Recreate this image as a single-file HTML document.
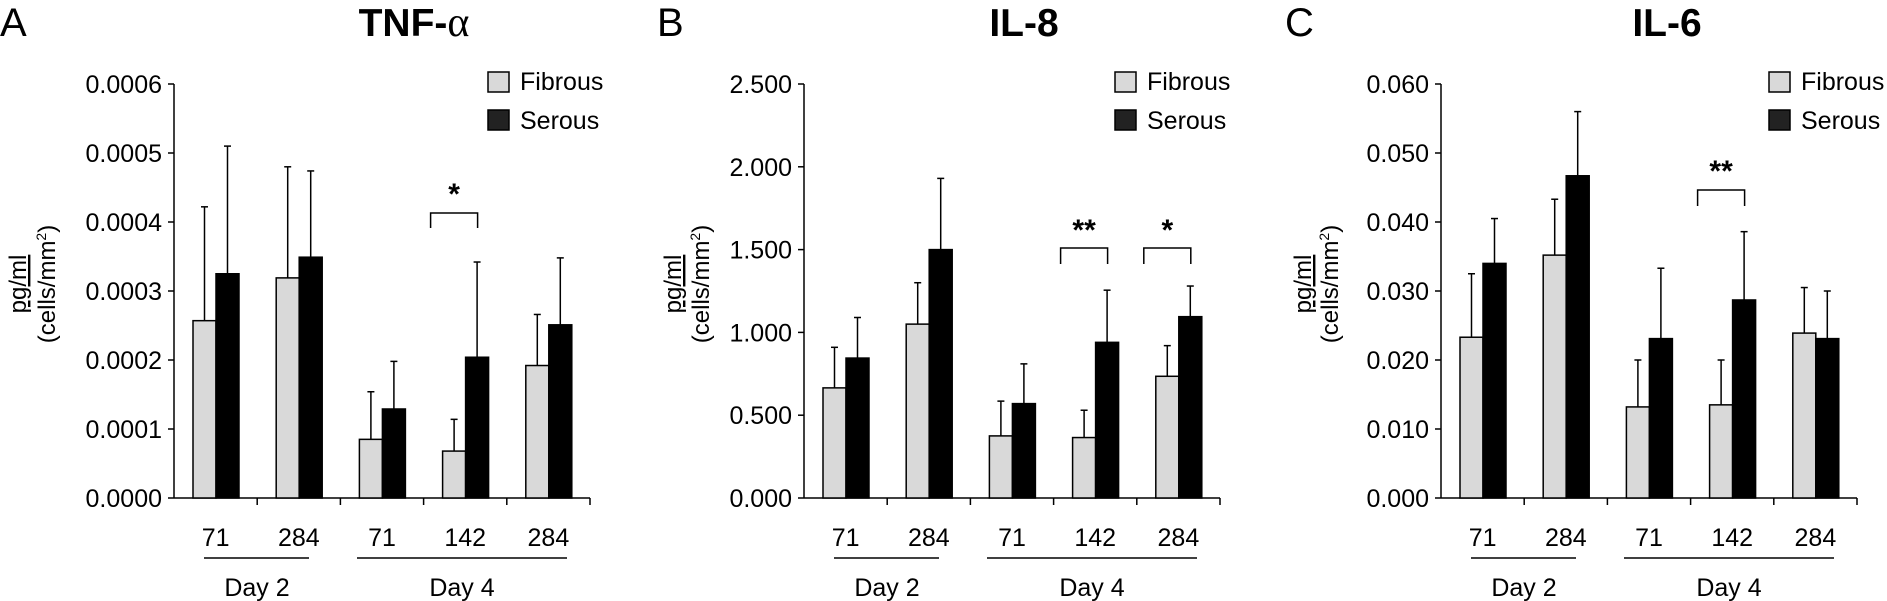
<!DOCTYPE html>
<html><head><meta charset="utf-8"><style>
html,body{margin:0;padding:0;background:#fff;}
svg{display:block;font-family:"Liberation Sans",Arial,sans-serif;}
</style></head><body>
<svg id="s" width="1887" height="601" viewBox="0 0 1887 601" xmlns="http://www.w3.org/2000/svg"></svg>
<script>
var panels=[
 {ax:174,letter:"A",lx:0,title:"TNF-<tspan font-family=\"Liberation Serif\" font-weight=\"normal\" font-size=\"42\">α</tspan>",tx:414,ymax:0.0006,step:0.0001,dec:4,ylx:[18,47],leg:488,
  d:[[0.000257,0.000422,0.000325,0.00051],[0.000319,0.00048,0.000349,0.000474],[0.000085,0.000154,0.000129,0.000198],[0.000068,0.000114,0.000204,0.000342],[0.000192,0.000266,0.000251,0.000348]],
  br:[[3,213,228,"*",188]]},
 {ax:804,letter:"B",lx:657,title:"IL-8",tx:1024,ymax:2.5,step:0.5,dec:3,ylx:[673,701],leg:1115,
  d:[[0.665,0.91,0.845,1.09],[1.05,1.30,1.50,1.93],[0.375,0.585,0.57,0.81],[0.365,0.53,0.94,1.255],[0.735,0.92,1.095,1.28]],
  br:[[3,248,264,"**",224],[4,248,264,"*",224]]},
 {ax:1441,letter:"C",lx:1285,title:"IL-6",tx:1667,ymax:0.06,step:0.01,dec:3,ylx:[1303,1330],leg:1769,
  d:[[0.0233,0.0325,0.034,0.0405],[0.0352,0.0433,0.0467,0.056],[0.0132,0.020,0.0231,0.0333],[0.0135,0.020,0.0287,0.0386],[0.0239,0.0305,0.0231,0.030]],
  br:[[3,190,206,"**",165]]}
];
var y0=498,yt=84,cw=83.2,o="";
function L(x1,y1,x2,y2,w){o+='<line x1="'+x1+'" y1="'+y1+'" x2="'+x2+'" y2="'+y2+'" stroke="#000" stroke-width="'+(w||1.5)+'"/>';}
function T(x,y,t,sz,anc,extra){o+='<text x="'+x+'" y="'+y+'" font-size="'+sz+'" text-anchor="'+(anc||"middle")+'" '+(extra||"")+'>'+t+'</text>';}
panels.forEach(function(p){
 var ax=p.ax,sc=(y0-yt)/p.ymax;
 T(p.lx,36,p.letter,40,"start");
 T(p.tx,36,p.title,39,"middle",'font-weight="bold"');
 L(ax,yt,ax,y0);
 var n=Math.round(p.ymax/p.step);
 for(var i=0;i<=n;i++){var y=y0-i*p.step*sc;L(ax-6,y,ax,y);T(ax-12,y+9,(i*p.step).toFixed(p.dec),25,"end");}
 L(ax,y0,ax+5*cw,y0);
 for(var i=1;i<=5;i++){L(ax+i*cw,y0,ax+i*cw,y0+7);}
 p.d.forEach(function(v,i){
  var cx=ax+i*cw;
  var fx=cx+19,sx=cx+42,w=23;
  [[fx,v[0],v[1],"#d9d9d9"],[sx,v[2],v[3],"#000"]].forEach(function(b){
   var top=y0-b[1]*sc,et=y0-b[2]*sc,mx=b[0]+w/2;
   L(mx,top,mx,et);L(mx-3.5,et,mx+3.5,et);
   o+='<rect x="'+b[0]+'" y="'+top+'" width="'+w+'" height="'+(y0-top)+'" fill="'+b[3]+'" stroke="#000" stroke-width="1.5"/>';
  });
  T(cx+cw/2,546,["71","284","71","142","284"][i],25);
 });
 L(ax+30,558,ax+135,558);L(ax+183,558,ax+393,558);
 T(ax+83,596,"Day 2",25);T(ax+288,596,"Day 4",25);
 p.br.forEach(function(b){
  var cx=ax+b[0]*cw,x1=cx+7,x2=cx+54;
  o+='<polyline points="'+x1+','+b[2]+' '+x1+','+b[1]+' '+x2+','+b[1]+' '+x2+','+b[2]+'" fill="none" stroke="#000" stroke-width="1.5"/>';
  T((x1+x2)/2,b[4]+16,b[3],30,"middle",'font-weight="bold"');
 });
 o+='<rect x="'+p.leg+'" y="72" width="21" height="20" fill="#d9d9d9" stroke="#000" stroke-width="1.5"/>';
 o+='<rect x="'+p.leg+'" y="110" width="21" height="20" fill="#222" stroke="#000" stroke-width="1.5"/>';
 T(p.leg+32,90,"Fibrous",25,"start");T(p.leg+32,129,"Serous",25,"start");
 T(0,0,"pg/ml",24,"middle",'text-decoration="underline" transform="translate('+(p.ylx[0]+8)+',284) rotate(-90)"');
 T(0,0,"(cells/mm<tspan font-size=\"14\" dy=\"-9\">2</tspan><tspan dy=\"9\">)</tspan>",24,"middle",'transform="translate('+(p.ylx[1]+8)+',284) rotate(-90)"');
});
document.getElementById("s").innerHTML=o;
</script>
</body></html>
